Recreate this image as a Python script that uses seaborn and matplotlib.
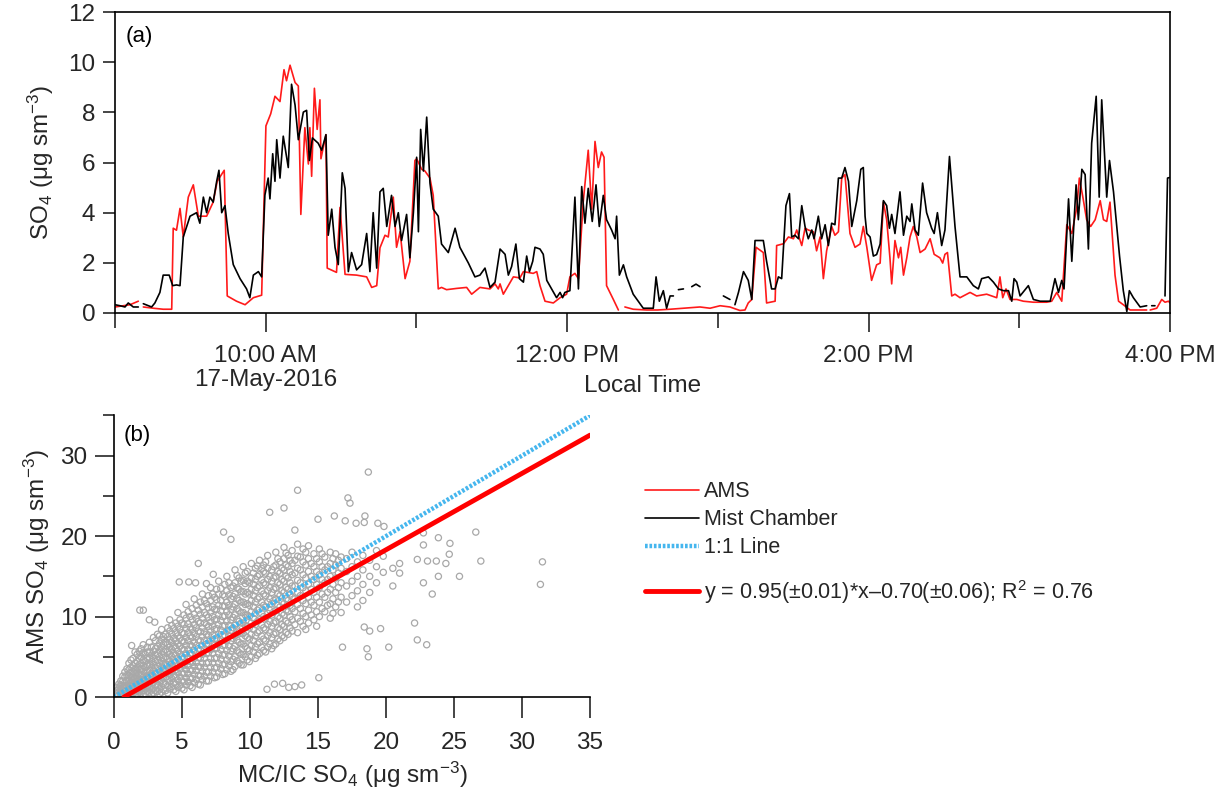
import numpy as np
import matplotlib
matplotlib.use("Agg")
import matplotlib.pyplot as plt
from matplotlib.lines import Line2D
from matplotlib.ticker import MultipleLocator, FixedLocator
import seaborn as sns

nan = np.nan

# ---------------- data ----------------
# minutes after 09:00 local time on 17-May-2016, SO4 in ug sm-3
ams_points = [
    (0, 0.24), (3.3, 0.29), (6.0, 0.33), (9.3, 0.47), (10.3, nan), (11.3, 0.24), (15.3, 0.19),
    (19.2, 0.15), (22.6, 0.15), (23.2, 3.38), (24.5, 3.30), (25.9, 4.17), (27.2, 3.03), (29.2, 4.62),
    (31.2, 5.11), (33.2, 3.86), (36.5, 3.86), (39.1, 4.42), (40.7, 5.25), (43.5, 5.69), (44.7, 0.68),
    (48.4, 0.47), (51.8, 0.33), (55.1, 0.61), (58.4, 0.71), (60.1, 7.46), (62.0, 7.94), (63.7, 8.64),
    (65.7, 8.43), (67.3, 9.70), (68.3, 9.26), (69.7, 9.88), (71.7, 9.19), (73.0, 9.05), (74.0, 3.93),
    (75.6, 7.39), (77.0, 5.94), (77.6, 7.39), (78.3, 5.45), (79.4, 8.96), (80.5, 7.32), (81.6, 8.50),
    (82.0, 6.15), (84.0, 7.11), (84.5, 1.79), (88.2, 1.62), (89.6, 4.21), (91.6, 1.54), (96.2, 1.51),
    (100.2, 1.44), (102.2, 1.02), (104.2, 1.09), (105.5, 2.60), (107.5, 3.10), (108.8, 3.03),
    (110.8, 4.62), (112.1, 2.62), (113.5, 3.24), (115.5, 1.37), (117.4, 2.06), (119.4, 6.08),
    (120.1, 6.15), (122.1, 5.73), (123.4, 5.66), (125.4, 5.38), (126.7, 4.69), (128.7, 0.96),
    (130.0, 1.02), (132.0, 0.93), (136.0, 0.98), (140.0, 1.02), (142.0, 0.75), (145.3, 1.02),
    (149.3, 0.96), (151.3, 1.16), (152.6, 0.96), (153.3, 1.16), (154.6, 0.75), (158.6, 1.44),
    (161.2, 1.40), (162.6, 1.65), (166.5, 1.58), (167.9, 1.65), (169.2, 1.09), (171.2, 0.47),
    (174.5, 0.40), (177.2, 0.61), (179.8, 0.75), (181.1, 1.44), (183.1, 1.58), (184.5, 1.37),
    (186.4, 4.42), (188.4, 6.49), (189.8, 4.14), (191.1, 6.84), (192.4, 5.80), (193.7, 6.42),
    (194.7, 6.21), (195.7, 1.09), (198.4, 0.54), (200.4, 0.12), (201.7, nan), (203.0, 0.24),
    (206.3, 0.15), (211.7, 0.12), (216.0, 0.12), (221.0, 0.15), (226.3, 0.19), (232.9, 0.24),
    (236.9, 0.19), (240.9, 0.29), (244.8, 0.24), (248.8, 0.10), (250.8, 0.12), (252.1, 0.40),
    (253.5, 0.54), (255.2, 2.62), (258.1, 2.41), (259.4, 0.40), (262.8, 0.47), (263.4, 2.69),
    (266.1, 2.76), (268.1, 3.03), (270.1, 2.96), (271.4, 3.31), (273.4, 2.69), (274.7, 3.38),
    (276.0, 3.31), (278.0, 3.24), (279.3, 2.48), (280.7, 3.03), (282.0, 1.37), (283.3, 2.48),
    (285.3, 3.45), (286.6, 3.10), (288.0, 3.24), (289.3, 5.38), (290.6, 5.52), (292.6, 3.17),
    (294.6, 2.62), (296.6, 2.75), (297.9, 3.45), (299.3, 2.62), (301.2, 1.30), (303.2, 1.92),
    (304.6, 1.99), (305.9, 4.42), (307.2, 3.72), (308.5, 2.20), (309.2, 1.16), (310.5, 2.89),
    (311.9, 2.20), (312.8, 2.62), (313.9, 1.51), (315.2, 2.20), (316.5, 3.03), (317.8, 3.45),
    (319.2, 3.03), (320.5, 2.41), (322.5, 2.55), (324.5, 2.96), (326.1, 2.34), (328.4, 2.20),
    (329.5, 1.99), (330.4, 2.34), (331.4, 2.41), (333.1, 0.68), (334.4, 0.75), (336.4, 0.61),
    (340.4, 0.82), (343.0, 0.68), (347.0, 0.75), (351.0, 0.61), (352.3, 1.44), (353.4, 0.61),
    (354.7, 0.96), (356.3, 0.54), (359.0, 0.54), (361.6, 0.47), (365.6, 0.43), (370.9, 0.43),
    (372.9, 0.47), (374.9, 0.82), (376.9, 0.47), (378.9, 3.52), (380.9, 3.17), (382.9, 4.21),
    (383.9, 5.38), (385.3, 4.62), (386.8, 3.72), (388.4, 3.45), (390.2, 3.72), (392.2, 4.48),
    (393.5, 3.72), (394.8, 3.65), (396.1, 4.42), (398.1, 1.51), (399.5, 0.47), (401.4, 0.33),
    (404.1, 0.12), (408.1, 0.12), (410.7, 0.12), (411.4, nan), (412.1, 0.12), (414.7, 0.19),
    (416.7, 0.54), (418.0, 0.43), (419.4, 0.47), (420.0, 0.40),
]

mist_points = [
    (0, 0.33), (2.0, 0.29), (4.0, 0.24), (5.3, 0.40), (7.3, 0.24), (9.3, 0.24), (10.3, nan),
    (11.3, 0.37), (13.3, 0.29), (14.6, 0.24), (15.9, 0.40), (17.9, 0.82), (19.2, 1.51), (21.6, 1.51),
    (23.0, 1.09), (24.5, 1.12), (25.9, 1.09), (27.2, 3.03), (29.9, 3.86), (32.5, 4.00), (33.8, 3.58),
    (35.2, 4.62), (36.5, 4.00), (37.8, 4.62), (39.1, 4.42), (40.5, 5.25), (41.4, 5.69), (42.5, 4.00),
    (43.8, 4.28), (45.1, 3.17), (47.1, 1.93), (49.8, 1.37), (52.4, 0.96), (53.7, 0.61), (55.1, 1.51),
    (57.1, 1.65), (58.4, 1.44), (59.7, 4.70), (61.0, 5.38), (61.7, 4.55), (62.8, 6.35), (63.7, 5.25),
    (64.4, 6.91), (65.7, 5.38), (67.0, 7.05), (69.0, 5.80), (70.3, 9.12), (71.7, 8.29), (73.0, 6.91),
    (75.0, 8.01), (76.3, 8.08), (77.4, 6.08), (78.6, 6.98), (80.9, 6.77), (82.3, 6.49), (84.0, 7.11),
    (84.9, 3.10), (86.3, 4.14), (87.6, 2.62), (88.9, 1.93), (90.5, 5.59), (91.6, 4.97), (92.9, 1.65),
    (94.2, 2.41), (96.2, 1.72), (98.2, 1.93), (100.2, 3.17), (101.5, 1.65), (102.8, 4.00), (104.2, 1.79),
    (105.5, 4.83), (106.8, 4.97), (108.2, 3.45), (110.1, 4.69), (111.5, 3.45), (112.8, 4.00),
    (114.1, 2.89), (116.1, 3.93), (117.4, 2.20), (118.8, 4.00), (120.1, 6.21), (120.8, 3.24),
    (121.7, 7.32), (122.8, 5.66), (124.1, 7.81), (125.4, 5.18), (126.7, 4.14), (128.7, 3.86),
    (130.0, 2.75), (132.7, 2.41), (135.4, 3.38), (137.3, 2.62), (140.7, 1.99), (143.3, 1.44),
    (145.3, 1.51), (147.3, 1.79), (149.3, 1.02), (151.3, 1.23), (153.3, 2.55), (155.3, 2.34),
    (156.6, 1.51), (157.9, 1.85), (159.6, 2.75), (161.0, 1.37), (162.6, 1.23), (163.9, 2.27),
    (165.0, 1.65), (166.3, 2.06), (167.2, 2.62), (169.2, 2.55), (170.5, 2.34), (171.9, 1.30),
    (173.8, 0.96), (175.8, 0.61), (177.2, 0.82), (178.2, 0.61), (179.1, 0.82), (181.1, 0.89),
    (183.1, 4.62), (184.5, 0.96), (185.8, 5.04), (187.1, 3.58), (188.4, 4.97), (190.0, 3.65),
    (191.5, 5.11), (192.8, 3.45), (194.4, 4.69), (195.7, 3.72), (197.7, 3.31), (199.1, 2.96),
    (199.7, 3.86), (200.8, 1.51), (202.4, 1.92), (203.7, 1.44), (206.3, 0.75), (210.3, 0.19),
    (213.0, 0.19), (214.3, 0.19), (215.4, 1.44), (216.7, 0.47), (218.3, 0.89), (219.6, 0.19),
    (221.0, 0.68), (222.3, 0.68), (223.3, nan), (224.3, 0.93), (226.3, 0.96), (228.0, nan),
    (229.6, 1.05), (231.3, 1.15), (232.9, 1.05), (237.0, nan), (242.2, 0.68), (244.8, 0.54),
    (245.8, nan), (246.8, 0.33), (248.2, 0.82), (250.2, 1.65), (252.1, 1.30), (253.5, 0.54),
    (254.8, 2.89), (258.1, 2.89), (259.4, 2.06), (261.4, 0.96), (262.8, 0.96), (264.1, 1.44),
    (265.4, 1.37), (267.1, 4.28), (268.5, 4.76), (269.4, 3.03), (270.7, 3.10), (272.1, 2.96),
    (273.4, 4.28), (274.7, 3.45), (276.0, 2.96), (277.4, 3.31), (278.3, 2.96), (280.0, 3.86),
    (281.3, 2.96), (282.7, 3.52), (284.0, 2.69), (285.3, 3.58), (286.6, 3.52), (288.0, 5.38),
    (289.3, 5.38), (290.6, 5.80), (292.0, 5.25), (293.3, 3.45), (295.3, 4.48), (296.9, 5.73),
    (297.9, 5.80), (298.6, 3.86), (299.3, 3.17), (300.6, 3.03), (301.9, 2.27), (303.2, 2.33),
    (304.6, 2.75), (305.9, 4.48), (307.2, 4.28), (308.3, 3.38), (309.2, 3.93), (310.5, 3.17),
    (312.5, 4.83), (313.9, 3.10), (315.2, 3.86), (316.5, 3.65), (317.2, 4.35), (318.5, 3.31),
    (319.8, 3.10), (321.5, 5.18), (323.1, 4.00), (325.1, 3.38), (326.1, 3.17), (327.4, 4.00),
    (329.1, 2.69), (330.4, 3.31), (332.2, 6.24), (334.4, 3.45), (336.4, 1.44), (339.1, 1.44),
    (341.7, 1.09), (343.7, 0.96), (345.0, 1.37), (347.7, 1.44), (349.7, 1.23), (351.7, 0.96),
    (353.7, 0.89), (355.7, 0.89), (357.0, 0.47), (357.9, 1.37), (359.0, 1.23), (360.3, 0.68),
    (363.6, 1.09), (365.6, 0.54), (368.3, 0.47), (372.3, 0.47), (374.2, 1.37), (375.6, 0.82),
    (376.9, 1.30), (377.8, 0.96), (379.6, 4.55), (380.9, 2.06), (382.6, 5.11), (383.5, 3.72),
    (384.9, 5.73), (386.2, 5.52), (387.5, 2.55), (388.8, 6.77), (390.6, 8.64), (391.8, 4.62),
    (392.8, 8.50), (394.8, 4.62), (395.9, 6.08), (397.5, 4.83), (399.9, 2.27), (401.4, 0.89),
    (402.8, 0.06), (403.8, 0.89), (405.4, 0.61), (408.1, 0.24), (410.7, 0.29), (411.7, nan),
    (412.7, 0.29), (414.0, 0.29), (416.0, nan), (418.0, 0.68), (419.0, 5.38), (419.8, 5.40),
]

time_major_min = [60, 180, 300, 420]
time_minor_min = [0, 120, 240, 360]
time_tick_labels = ["10:00 AM\n17-May-2016", "12:00 PM", "2:00 PM", "4:00 PM"]

# scatter (b): MC/IC SO4 (x) vs AMS SO4 (y), read column by column from the cloud
cloud_cols = {
    0.2: [0.1, 0.4, 0.8, 1.2],
    0.5: [0.2, 0.6, 1.0, 1.5, 2.0],
    0.8: [0.3, 0.7, 1.2, 1.8, 2.5, 3.1],
    1.1: [0.2, 0.6, 1.0, 1.5, 2.1, 2.7, 3.4, 4.2],
    1.4: [0.4, 0.9, 1.4, 2.0, 2.6, 3.2, 3.9, 4.8],
    1.7: [0.3, 0.8, 1.3, 1.9, 2.5, 3.1, 3.7, 4.4, 5.3],
    2.0: [0.5, 1.0, 1.6, 2.2, 2.8, 3.5, 4.2, 5.0, 6.0],
    2.3: [0.4, 1.0, 1.6, 2.3, 3.0, 3.7, 4.4, 5.3],
    2.6: [0.6, 1.2, 1.9, 2.6, 3.3, 4.0, 4.8, 5.6, 6.8],
    2.9: [0.5, 1.1, 1.8, 2.5, 3.2, 4.0, 4.8, 5.7, 7.4],
    3.2: [0.7, 1.4, 2.2, 3.0, 3.8, 4.6, 5.4, 6.3, 7.8],
    3.5: [0.6, 1.3, 2.1, 2.9, 3.7, 4.5, 5.3, 6.2, 7.1, 8.4],
    3.8: [0.8, 1.6, 2.5, 3.3, 4.1, 5.0, 5.9, 6.8, 7.8],
    4.1: [1.0, 1.9, 2.8, 3.6, 4.4, 5.3, 6.2, 7.1, 8.2, 9.6],
    4.4: [0.9, 1.8, 2.7, 3.6, 4.5, 5.4, 6.3, 7.3, 8.5],
    4.7: [1.2, 2.1, 3.0, 3.9, 4.8, 5.7, 6.6, 7.6, 8.8, 10.5],
    5.0: [1.1, 2.0, 3.0, 4.0, 5.0, 6.0, 7.0, 8.0, 9.2],
    5.3: [1.5, 2.4, 3.4, 4.4, 5.4, 6.4, 7.4, 8.5, 9.8, 11.5],
    5.6: [1.4, 2.4, 3.4, 4.4, 5.4, 6.5, 7.6, 8.7, 10.0],
    5.9: [1.8, 2.8, 3.8, 4.8, 5.8, 6.8, 7.9, 9.0, 10.3, 12.2],
    6.2: [1.6, 2.7, 3.8, 4.9, 6.0, 7.1, 8.2, 9.4, 10.8],
    6.5: [2.2, 3.2, 4.2, 5.3, 6.4, 7.5, 8.6, 9.8, 11.2, 12.8],
    6.8: [2.0, 3.1, 4.2, 5.4, 6.6, 7.8, 9.0, 10.2, 11.6],
    7.1: [2.6, 3.7, 4.8, 5.9, 7.0, 8.1, 9.3, 10.5, 12.0, 13.6],
    7.4: [2.4, 3.6, 4.8, 6.0, 7.2, 8.4, 9.6, 10.9, 12.4],
    7.7: [3.0, 4.2, 5.4, 6.6, 7.8, 9.0, 10.2, 11.4, 12.8, 14.4],
    8.0: [2.8, 4.0, 5.2, 6.4, 7.6, 8.8, 10.0, 11.3, 12.7],
    8.3: [3.4, 4.6, 5.8, 7.0, 8.2, 9.4, 10.6, 11.8, 13.2, 15.0],
    8.6: [3.2, 4.4, 5.7, 7.0, 8.3, 9.6, 10.9, 12.2, 13.6],
    8.9: [3.8, 5.0, 6.3, 7.6, 8.9, 10.2, 11.5, 12.8, 14.2, 15.8],
    9.2: [4.2, 5.5, 6.8, 8.1, 9.4, 10.7, 12.0, 13.4, 14.8],
    9.5: [4.0, 5.3, 6.6, 7.9, 9.2, 10.5, 11.8, 13.1, 14.5, 16.2],
    9.8: [4.6, 6.0, 7.4, 8.8, 10.2, 11.6, 13.0, 14.4, 15.6],
    10.1: [5.0, 6.4, 7.8, 9.2, 10.6, 12.0, 13.4, 14.8, 16.6],
    10.4: [4.8, 6.2, 7.6, 9.0, 10.4, 11.8, 13.2, 14.6, 16.0],
    10.7: [5.4, 6.8, 8.2, 9.6, 11.0, 12.4, 13.8, 15.2, 17.0],
    11.0: [5.8, 7.2, 8.6, 10.0, 11.4, 12.8, 14.2, 15.6, 16.4],
    11.3: [6.2, 7.6, 9.0, 10.4, 11.8, 13.2, 14.6, 16.0, 17.6],
    11.6: [6.0, 7.4, 8.8, 10.2, 11.6, 13.0, 14.4, 15.8],
    11.9: [6.6, 8.0, 9.4, 10.8, 12.2, 13.6, 15.0, 16.4, 18.0],
    12.2: [7.0, 8.4, 9.8, 11.2, 12.6, 14.0, 15.4, 16.8],
    12.5: [7.4, 8.8, 10.2, 11.6, 13.0, 14.4, 15.8, 17.2, 18.6],
    12.8: [7.8, 9.2, 10.6, 12.0, 13.4, 14.8, 16.2, 17.6],
    13.1: [8.2, 9.6, 11.0, 12.4, 13.8, 15.2, 16.6, 18.2],
    13.5: [8.0, 9.8, 11.5, 13.0, 14.5, 16.0, 17.5, 19.0],
    13.9: [8.8, 10.4, 12.0, 13.6, 15.2, 16.8, 18.4],
    14.3: [9.2, 10.8, 12.4, 14.0, 15.6, 17.2, 18.8],
    14.7: [9.6, 11.4, 13.0, 14.6, 16.2, 17.8],
    15.1: [10.0, 11.8, 13.6, 15.2, 16.8, 18.4],
    15.5: [10.6, 12.4, 14.2, 15.8, 17.4],
    15.9: [9.8, 11.6, 13.4, 15.0, 16.6, 18.0],
    16.3: [11.2, 13.0, 14.8, 16.4, 17.8],
    16.7: [10.5, 12.4, 14.2, 16.0, 17.4],
    17.1: [11.8, 13.8, 15.6, 17.2],
    17.5: [12.6, 14.4, 16.2, 18.0],
    17.9: [11.2, 13.2, 15.0, 16.8],
    18.3: [12.0, 14.0, 15.8, 17.6],
    18.8: [13.0, 15.0, 17.0],
    19.3: [14.2, 16.2, 18.2],
    19.8: [15.5, 17.5],
    20.5: [13.8, 16.0],
    21.0: [15.4, 16.6],
}
cloud_cols_between = {
    0.35: [0.3, 0.7, 1.1, 1.6],
    0.65: [0.1, 0.5, 0.9, 1.4, 2.0, 2.6],
    0.95: [0.5, 0.9, 1.4, 2.0, 2.7, 3.5],
    1.25: [0.4, 0.8, 1.3, 1.8, 2.4, 3.0, 3.7, 4.6],
    1.55: [0.2, 0.6, 1.1, 1.7, 2.3, 2.9, 3.5, 4.2, 5.6],
    1.85: [0.6, 1.1, 1.6, 2.2, 2.8, 3.4, 4.0, 4.8, 5.7],
    2.15: [0.3, 0.8, 1.3, 1.9, 2.5, 3.2, 3.9, 4.6, 5.5, 6.5],
    2.45: [0.7, 1.3, 1.9, 2.6, 3.3, 4.0, 4.8, 5.6, 6.2],
    2.75: [0.3, 0.9, 1.5, 2.2, 2.9, 3.6, 4.4, 5.2, 6.2],
    3.05: [0.8, 1.5, 2.2, 2.9, 3.6, 4.4, 5.2, 6.0, 7.0],
    3.35: [0.4, 1.0, 1.8, 2.6, 3.4, 4.2, 5.0, 5.8, 6.7, 7.6],
    3.65: [0.9, 1.7, 2.5, 3.3, 4.1, 4.9, 5.7, 6.6, 7.5],
    3.95: [0.5, 1.4, 2.2, 3.1, 4.0, 4.8, 5.7, 6.6, 7.5, 8.6],
    4.25: [1.3, 2.3, 3.2, 4.1, 5.0, 5.9, 6.8, 7.8, 8.9],
    4.55: [0.7, 1.6, 2.5, 3.4, 4.3, 5.2, 6.1, 7.0, 8.0, 9.2],
    4.85: [1.5, 2.5, 3.5, 4.4, 5.3, 6.3, 7.3, 8.4, 9.6],
    5.15: [0.9, 1.9, 2.9, 3.9, 4.9, 5.9, 6.9, 7.9, 9.0, 10.2],
    5.45: [1.9, 2.9, 3.9, 4.9, 5.9, 7.0, 8.0, 9.1, 10.6],
    5.75: [1.2, 2.3, 3.3, 4.3, 5.3, 6.3, 7.4, 8.4, 9.6, 11.0],
    6.05: [2.2, 3.3, 4.3, 5.4, 6.4, 7.5, 8.6, 9.8, 11.4],
    6.35: [1.5, 2.6, 3.7, 4.8, 5.9, 7.0, 8.1, 9.2, 10.3, 11.8],
    6.65: [2.6, 3.7, 4.8, 5.9, 7.0, 8.1, 9.2, 10.5, 12.0],
    6.95: [2.0, 3.1, 4.3, 5.5, 6.6, 7.7, 8.8, 9.9, 11.1, 12.6],
    7.25: [3.1, 4.2, 5.4, 6.6, 7.7, 8.8, 10.0, 11.2, 12.8],
    7.55: [2.5, 3.7, 4.9, 6.1, 7.3, 8.5, 9.7, 10.9, 12.1, 13.4],
    7.85: [3.5, 4.7, 5.9, 7.1, 8.3, 9.5, 10.7, 12.0, 13.5],
    8.15: [2.9, 4.1, 5.3, 6.5, 7.7, 8.9, 10.1, 11.3, 12.5, 14.0],
    8.45: [3.9, 5.1, 6.3, 7.6, 8.9, 10.2, 11.4, 12.7, 14.2],
    8.75: [3.4, 4.7, 6.0, 7.3, 8.6, 9.9, 11.2, 12.5, 13.8],
    9.05: [4.5, 5.8, 7.1, 8.4, 9.7, 11.0, 12.3, 13.6, 15.1],
    9.35: [4.0, 5.3, 6.6, 7.9, 9.2, 10.5, 11.8, 13.1, 14.4],
    9.65: [5.0, 6.3, 7.6, 8.9, 10.2, 11.5, 12.8, 14.1, 15.4],
    9.95: [4.4, 5.8, 7.2, 8.6, 10.0, 11.4, 12.8, 14.2],
    10.25: [5.6, 7.0, 8.4, 9.8, 11.2, 12.6, 14.0, 15.4],
    10.55: [5.2, 6.6, 8.0, 9.4, 10.8, 12.2, 13.6, 15.0, 16.3],
    10.85: [6.2, 7.6, 9.0, 10.4, 11.8, 13.2, 14.6, 16.0],
    11.15: [5.6, 7.0, 8.4, 9.8, 11.2, 12.6, 14.0, 15.4, 16.8],
    11.45: [6.6, 8.0, 9.4, 10.8, 12.2, 13.6, 15.0],
    11.75: [6.4, 7.8, 9.2, 10.6, 12.0, 13.4, 14.8, 16.2],
    12.05: [7.2, 8.6, 10.0, 11.4, 12.8, 14.2, 15.6, 17.2],
    12.35: [7.6, 9.0, 10.4, 11.8, 13.2, 14.6, 16.0],
    12.65: [8.0, 9.4, 10.8, 12.2, 13.6, 15.0, 16.4, 17.9],
    12.95: [8.6, 10.0, 11.4, 12.8, 14.2, 15.6, 17.0],
    13.3: [9.0, 10.6, 12.2, 13.8, 15.4, 17.0],
    13.7: [9.4, 11.0, 12.6, 14.2, 15.8, 17.4],
    14.1: [8.4, 10.0, 11.6, 13.2, 14.8, 16.4, 18.0],
    14.5: [10.2, 11.8, 13.4, 15.0, 16.6],
    14.9: [8.8, 10.6, 12.4, 14.0, 15.6, 17.2],
    15.3: [11.0, 12.8, 14.6, 16.2, 17.8],
    15.7: [11.4, 13.0, 14.6, 16.2],
    16.1: [10.4, 12.2, 14.0, 15.8, 17.2],
    16.5: [11.8, 13.6, 15.4, 17.0],
}
outlier_x = [18.7, 13.5, 17.2, 17.35, 12.5, 11.45, 15.0, 16.2, 17.0, 17.8, 18.45, 18.4, 19.4, 19.85,
             13.3, 8.06, 8.6, 22.75, 23.85, 26.6, 24.7, 22.75, 24.65, 26.97, 31.5, 31.35, 25.4, 23.85,
             22.75, 23.4, 22.3, 23.05, 23.7, 24.4, 22.1, 22.3, 22.99, 20.2, 19.6, 18.8, 18.4, 18.6,
             18.7, 16.8, 15.06, 13.8, 13.3, 12.85, 12.4, 11.8, 11.25, 1.3, 1.9, 2.16, 2.6, 3.0, 4.8,
             5.5, 6.0, 6.2, 6.8, 7.3]
outlier_y = [27.96, 25.7, 24.75, 24.1, 23.5, 22.96, 22.1, 22.5, 21.9, 21.6, 22.5, 21.7, 21.6, 21.2,
             20.75, 20.5, 19.6, 20.4, 19.8, 20.5, 19.1, 18.9, 17.75, 16.9, 16.8, 14.0, 15.0, 15.0,
             14.2, 12.8, 17.1, 16.9, 16.9, 16.6, 9.2, 7.1, 6.5, 6.2, 8.5, 8.2, 8.7, 6.0,
             5.0, 6.2, 2.4, 1.5, 1.3, 1.2, 1.7, 1.6, 0.96, 6.4, 10.8, 10.8, 9.6, 9.3, 14.3,
             14.3, 14.2, 16.6, 14.1, 15.25]

fit_slope = 0.95
fit_intercept = -0.70
legend_labels = ["AMS", "Mist Chamber", "1:1 Line"]
fit_label = "y = 0.95(\u00b10.01)*x\u20130.70(\u00b10.06); R$^2$ = 0.76"

# ---------------- style ----------------
sns.set_style("ticks")
plt.rcParams["font.family"] = ["Liberation Sans", "DejaVu Sans"]
plt.rcParams["mathtext.fontset"] = "custom"
plt.rcParams["mathtext.rm"] = "Liberation Sans"
plt.rcParams["mathtext.it"] = "Liberation Sans:italic"
plt.rcParams["mathtext.default"] = "regular"
plt.rcParams["axes.linewidth"] = 1.2
plt.rcParams["axes.edgecolor"] = "black"

RED = "#ff1a1a"
BLUE = "#45b6ee"
GRAY = "#a8a8a8"
TICK_FS = 17.5
LAB_FS = 17.5

fig = plt.figure(figsize=(12.28, 7.91), dpi=100)

# ---------------- panel (a) ----------------
ax1 = fig.add_axes([0.0936, 0.6043, 0.8592, 0.3805])
ams_t, ams_v = zip(*ams_points)
mist_t, mist_v = zip(*mist_points)
ax1.plot(ams_t, ams_v, color=RED, lw=1.2)
ax1.plot(mist_t, mist_v, color="black", lw=1.2)
ax1.set_xlim(0, 420)
ax1.set_ylim(0, 12)
ax1.xaxis.set_major_locator(FixedLocator(time_major_min))
ax1.xaxis.set_minor_locator(FixedLocator(time_minor_min))
ax1.set_xticklabels(time_tick_labels, fontsize=TICK_FS, linespacing=1.12)
ax1.set_yticks(np.arange(0, 13, 2))
ax1.tick_params(axis="y", direction="out", length=9, width=1.2, labelsize=TICK_FS, pad=5)
ax1.tick_params(axis="x", which="major", direction="out", length=14, width=1.2, pad=9)
ax1.tick_params(axis="x", which="minor", direction="out", length=11, width=1.2)
ax1.set_ylabel("SO$_4$ (\u03bcg sm$^{-3}$)", fontsize=LAB_FS, labelpad=9)
ax1.set_xlabel("Local Time", fontsize=LAB_FS)
ax1.xaxis.set_label_coords(0.5, -0.205)
ax1.text(0.01, 0.9, "(a)", transform=ax1.transAxes, fontsize=16, color="black")
for s in ax1.spines.values():
    s.set_visible(True)
    s.set_linewidth(1.2)

# ---------------- panel (b) ----------------
ax2 = fig.add_axes([0.0928, 0.1188, 0.3877, 0.356])
sc_x, sc_y = [], []
for cols in (cloud_cols, cloud_cols_between):
    for cx, ys in cols.items():
        for yv in ys:
            sc_x.append(cx)
            sc_y.append(yv)
sc_x += outlier_x
sc_y += outlier_y
sns.scatterplot(x=sc_x, y=sc_y, ax=ax2, marker="o", s=20, facecolor="none",
                edgecolor=GRAY, linewidth=0.9, legend=False, zorder=1)
one = np.array([0, 35])
sns.lineplot(x=one, y=one, ax=ax2, color=BLUE, lw=3.2, linestyle=(0, (0.6, 0.4)), zorder=2)
x0 = -fit_intercept / fit_slope
fx = np.array([x0, 35])
sns.lineplot(x=fx, y=fit_slope * fx + fit_intercept, ax=ax2, color="#ff0000", lw=3.5, zorder=3)
ax2.set_xlim(0, 35)
ax2.set_ylim(0, 35)
ax2.xaxis.set_major_locator(MultipleLocator(5))
ax2.yaxis.set_major_locator(MultipleLocator(10))
ax2.yaxis.set_minor_locator(MultipleLocator(5))
ax2.tick_params(axis="x", direction="out", length=15, width=1.2, labelsize=TICK_FS, pad=10)
ax2.tick_params(axis="y", which="major", direction="out", length=14, width=1.2, labelsize=TICK_FS, pad=5)
ax2.tick_params(axis="y", which="minor", direction="out", length=8, width=1.2)
ax2.set_xlabel("MC/IC SO$_4$ (\u03bcg sm$^{-3}$)", fontsize=LAB_FS, labelpad=4)
ax2.set_ylabel("AMS SO$_4$ (\u03bcg sm$^{-3}$)", fontsize=LAB_FS, labelpad=6)
ax2.text(0.02, 0.91, "(b)", transform=ax2.transAxes, fontsize=16, color="black")
sns.despine(ax=ax2)
ax2.spines["left"].set_linewidth(1.2)
ax2.spines["bottom"].set_linewidth(1.2)

# ---------------- legend ----------------
handles = [
    Line2D([], [], color=RED, lw=1.2),
    Line2D([], [], color="black", lw=1.2),
    Line2D([], [], color=BLUE, lw=3.2, linestyle=(0, (0.6, 0.4))),
]
fig.legend(handles, legend_labels, loc="center left", bbox_to_anchor=(0.525, 0.343),
           frameon=False, fontsize=15.5, handlelength=2.5, handletextpad=0.25,
           labelspacing=0.33, borderaxespad=0, borderpad=0)
fig.legend([Line2D([], [], color="#ff0000", lw=3.5)], [fit_label], loc="center left",
           bbox_to_anchor=(0.525, 0.252), frameon=False, fontsize=15.5, handlelength=2.5,
           handletextpad=0.25, borderaxespad=0, borderpad=0)

fig.savefig("out.png", dpi=100)
